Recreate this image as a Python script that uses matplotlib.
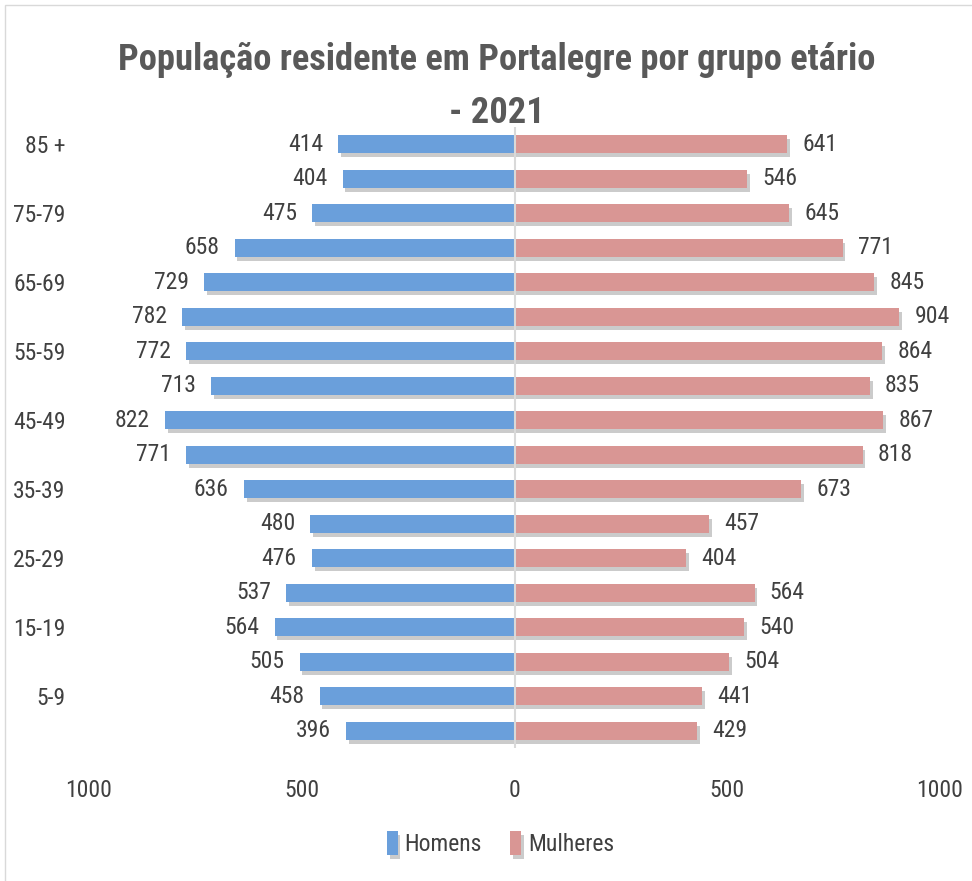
import numpy as np
import matplotlib
matplotlib.use('Agg')
import matplotlib.pyplot as plt
import matplotlib.patheffects as pe
from matplotlib.patches import Rectangle

plt.rcParams['font.family'] = ['Roboto Condensed', 'Liberation Sans', 'DejaVu Sans']

# age groups, oldest first (as read top to bottom)
groups = ["85 +", "80-84", "75-79", "70-74", "65-69", "60-64", "55-59", "50-54",
          "45-49", "40-44", "35-39", "30-34", "25-29", "20-24", "15-19", "10-14",
          "5-9", "0-4"]
homens = [414, 404, 475, 658, 729, 782, 772, 713, 822, 771, 636, 480, 476, 537,
          564, 505, 458, 396]
mulheres = [641, 546, 645, 771, 845, 904, 864, 835, 867, 818, 673, 457, 404, 564,
            540, 504, 441, 429]
xticks = [-1000, -500, 0, 500, 1000]
xlabels = ["1000", "500", "0", "500", "1000"]

BLUE = '#6a9fdb'
PINK = '#d99694'
TXT = '#404040'
FS = 17

fig = plt.figure(figsize=(9.72, 8.81), dpi=100)
ax = fig.add_axes([0.0916, 0.151, 0.8755, 0.705])

y = np.arange(len(groups))[::-1]
shadow = [pe.SimplePatchShadow(offset=(2, -3), shadow_rgbFace='#555555', alpha=0.3),
          pe.Normal()]
bh = ax.barh(y, [-v for v in homens], height=0.52, color=BLUE, label='Homens', zorder=3)
bm = ax.barh(y, mulheres, height=0.52, color=PINK, label='Mulheres', zorder=3)
for b in list(bh) + list(bm):
    b.set_path_effects(shadow)

for yi, v in zip(y, homens):
    ax.annotate(str(v), (-v, yi), xytext=(-11, 0), textcoords='offset points',
                ha='right', va='center', fontsize=FS, color=TXT)
for yi, v in zip(y, mulheres):
    ax.annotate(str(v), (v, yi), xytext=(11, 0), textcoords='offset points',
                ha='left', va='center', fontsize=FS, color=TXT)

ax.axvline(0, color='#d9d9d9', lw=1.5, zorder=4)
ax.set_xlim(-1000, 1000)
ax.set_ylim(-0.5, len(groups) - 0.5)
ax.set_xticks(xticks)
ax.set_xticklabels(xlabels, fontsize=FS, color=TXT)
ax.set_yticks(y)
ax.set_yticklabels([g if i % 2 == 0 else '' for i, g in enumerate(groups)],
                   fontsize=FS, color=TXT)
ax.tick_params(axis='y', length=0, pad=17)
ax.tick_params(axis='x', length=0, pad=22)
for s in ax.spines.values():
    s.set_visible(False)

fig.text(0.511, 0.902, "População residente em Portalegre por grupo etário\n- 2021",
         ha='center', va='center', fontsize=26.3, fontweight='bold', color='#595959',
         linespacing=1.62)

fig.legend(handles=[bh, bm], loc='center', bbox_to_anchor=(0.515, 0.043), ncol=2,
           frameon=False, fontsize=FS, labelcolor=TXT, handlelength=0.45,
           handleheight=1.2, handletextpad=0.3, columnspacing=1.2)

# chart area border
fig.patches.append(Rectangle((5 / 972, -0.01), 1.0, 1 - 5 / 881 + 0.01,
                             transform=fig.transFigure, fill=False,
                             edgecolor='#d9d9d9', lw=1))

fig.savefig('out.png', dpi=100)
